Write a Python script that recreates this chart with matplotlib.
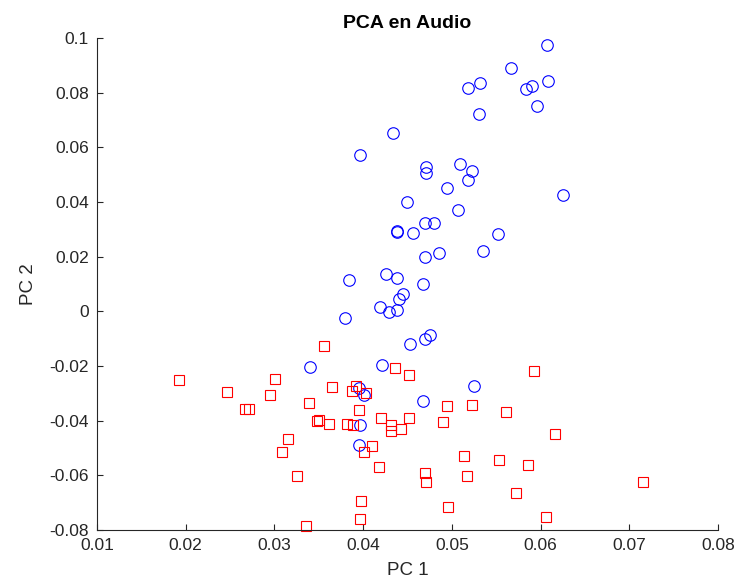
import matplotlib
matplotlib.use('Agg')
import matplotlib.pyplot as plt
from matplotlib.ticker import FuncFormatter

plt.rcParams['font.family'] = ['Liberation Sans', 'DejaVu Sans']
plt.rcParams['axes.unicode_minus'] = False

# grupo 1 (circulos azules)
pc1_a = [0.0607, 0.0567, 0.0532, 0.0518, 0.0584, 0.0590, 0.0608, 0.0596, 0.0531, 0.0434,
         0.0397, 0.0471, 0.0471, 0.0509, 0.0523, 0.0518, 0.0494, 0.0625, 0.0450, 0.0507,
         0.0470, 0.0480, 0.0438, 0.0438, 0.0456, 0.0552, 0.0535, 0.0486, 0.0470, 0.0384,
         0.0426, 0.0438, 0.0467, 0.0445, 0.0440, 0.0419, 0.0429, 0.0438, 0.0380, 0.0475,
         0.0470, 0.0453, 0.0421, 0.0340, 0.0395, 0.0401, 0.0397, 0.0395, 0.0525, 0.0467]
pc2_a = [0.0973, 0.0891, 0.0835, 0.0816, 0.0813, 0.0824, 0.0841, 0.0752, 0.0721, 0.0652,
         0.0572, 0.0529, 0.0507, 0.0539, 0.0514, 0.0479, 0.0450, 0.0424, 0.0400, 0.0370,
         0.0324, 0.0322, 0.0295, 0.0289, 0.0286, 0.0282, 0.0222, 0.0212, 0.0200, 0.0116,
         0.0136, 0.0122, 0.0099, 0.0063, 0.0046, 0.0015, -0.0001, 0.0004, -0.0023, -0.0088,
         -0.0100, -0.0120, -0.0198, -0.0204, -0.0281, -0.0305, -0.0415, -0.0488, -0.0274, -0.0328]

# grupo 2 (cuadrados rojos)
pc1_b = [0.0356, 0.0192, 0.0301, 0.0247, 0.0295, 0.0365, 0.0392, 0.0388, 0.0403, 0.0267,
         0.0271, 0.0339, 0.0395, 0.0348, 0.0350, 0.0361, 0.0382, 0.0389, 0.0315, 0.0308,
         0.0410, 0.0401, 0.0325, 0.0398, 0.0397, 0.0336, 0.0436, 0.0452, 0.0593, 0.0495,
         0.0523, 0.0561, 0.0420, 0.0452, 0.0431, 0.0431, 0.0443, 0.0490, 0.0616, 0.0418,
         0.0514, 0.0553, 0.0586, 0.0470, 0.0471, 0.0517, 0.0716, 0.0572, 0.0496, 0.0606]
pc2_b = [-0.0126, -0.0253, -0.0247, -0.0296, -0.0305, -0.0277, -0.0273, -0.0292, -0.0298, -0.0358,
         -0.0358, -0.0335, -0.0362, -0.0400, -0.0398, -0.0412, -0.0412, -0.0417, -0.0466, -0.0515,
         -0.0493, -0.0514, -0.0603, -0.0693, -0.0758, -0.0786, -0.0207, -0.0233, -0.0219, -0.0347,
         -0.0341, -0.0367, -0.0392, -0.0392, -0.0417, -0.0437, -0.0431, -0.0405, -0.0450, -0.0568,
         -0.0529, -0.0545, -0.0563, -0.0593, -0.0626, -0.0603, -0.0625, -0.0666, -0.0717, -0.0752]

xticks = [0.01, 0.02, 0.03, 0.04, 0.05, 0.06, 0.07, 0.08]
yticks = [-0.08, -0.06, -0.04, -0.02, 0, 0.02, 0.04, 0.06, 0.08, 0.1]

fig = plt.figure(figsize=(7.38, 5.88), dpi=100)
ax = fig.add_axes([0.1314, 0.0986, 0.8415, 0.8368])

ax.plot(pc1_a, pc2_a, 'o', color='blue', mfc='none', ms=8.3, mew=0.8, clip_on=False)
ax.plot(pc1_b, pc2_b, 's', color='red', mfc='none', ms=7.5, mew=0.8, clip_on=False)

ax.set_xlim(0.01, 0.08)
ax.set_ylim(-0.08, 0.1)
ax.set_xticks(xticks)
ax.set_yticks(yticks)
fmt = FuncFormatter(lambda v, p: '%g' % round(v, 4))
ax.xaxis.set_major_formatter(fmt)
ax.yaxis.set_major_formatter(fmt)

dark = '#262626'
for s in ['top', 'right']:
    ax.spines[s].set_visible(False)
for s in ['left', 'bottom']:
    ax.spines[s].set_color(dark)
    ax.spines[s].set_linewidth(0.8)
ax.tick_params(direction='in', length=4.5, width=0.8, colors=dark, labelsize=12.5, pad=6)

ax.set_xlabel('PC 1', fontsize=13.5, color=dark, labelpad=6)
ax.set_ylabel('PC 2', fontsize=13.5, color=dark, labelpad=9)
ax.set_title('PCA en Audio', fontsize=14, fontweight='bold', color='black', pad=7)

fig.savefig('out.png', dpi=100)
